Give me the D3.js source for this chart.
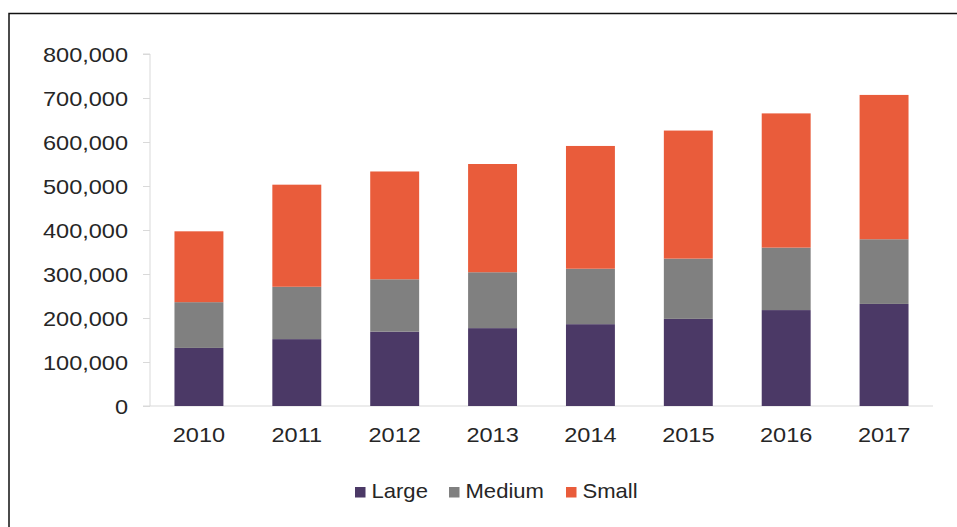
<!DOCTYPE html>
<html>
<head>
<meta charset="utf-8">
<script src="https://cdn.jsdelivr.net/npm/d3@7"></script>
<style>
  body { margin: 0; background: #fff; }
  svg { display: block; font-family: "Liberation Sans", Arial, sans-serif; }
  .axis text { fill: #262626; font-size: 21px; }
  .axis path, .axis line { stroke: #d9d9d9; }
  .legend text { fill: #262626; font-size: 21px; }
</style>
</head>
<body>
<div id="chart"></div>
<script>
const years = [`2010`, `2011`, `2012`, `2013`, `2014`, `2015`, `2016`, `2017`];
const large = [132000, 152000, 169000, 177000, 186000, 198000, 218000, 232000];
const medium = [104000, 119000, 119000, 127000, 126000, 137000, 142000, 147000];
const small = [161000, 232000, 245000, 246000, 279000, 291000, 305000, 328000];
const seriesNames = [`Large`, `Medium`, `Small`];
const seriesColors = [`#4b3966`, `#808080`, `#e95c3b`];
const yTicks = [0, 100000, 200000, 300000, 400000, 500000, 600000, 700000, 800000];

const width = 957;
const height = 527;
const margin = { top: 54, right: 24, bottom: 121, left: 150 };

const rows = years.map((y, i) => ({ year: y, Large: large[i], Medium: medium[i], Small: small[i] }));
const stacked = d3.stack().keys(seriesNames)(rows);

const svg = d3.select(`#chart`).append(`svg`)
  .attr(`width`, width)
  .attr(`height`, height);

// frame lines (top and left only)
svg.append(`path`)
  .attr(`d`, `M9,${height} V13.5 H${width}`)
  .attr(`fill`, `none`)
  .attr(`stroke`, `#111`)
  .attr(`stroke-width`, 1.5);

const x = d3.scaleBand()
  .domain(years)
  .range([margin.left, width - margin.right])
  .paddingInner(0.5)
  .paddingOuter(0.25);

const y = d3.scaleLinear()
  .domain([0, 800000])
  .range([height - margin.bottom, margin.top]);

const color = d3.scaleOrdinal().domain(seriesNames).range(seriesColors);

// the source's text is drawn a bit wider than the font gives
const stretch = (sel, k) => sel.each(function() {
  const w = this.getComputedTextLength();
  d3.select(this).attr(`textLength`, w * k).attr(`lengthAdjust`, `spacingAndGlyphs`);
});

const yAxis = svg.append(`g`)
  .attr(`class`, `axis`)
  .attr(`transform`, `translate(${margin.left},0)`)
  .call(d3.axisLeft(y).tickValues(yTicks).tickSize(7).tickPadding(15).tickFormat(d3.format(`,`)));
yAxis.select(`.domain`).attr(`d`, `M-7,${y(800000)}H0V${y(0)}`);
yAxis.selectAll(`text`).attr(`dy`, `0.36em`).call(stretch, 1.12);

const xAxis = svg.append(`g`)
  .attr(`class`, `axis`)
  .attr(`transform`, `translate(0,${y(0)})`)
  .call(d3.axisBottom(x).tickSize(0).tickPadding(21));
xAxis.select(`.domain`).attr(`d`, `M${margin.left - 7},0H${width - margin.right}`);
xAxis.selectAll(`text`).call(stretch, 1.12);

svg.append(`g`)
  .selectAll(`g`)
  .data(stacked)
  .join(`g`)
    .attr(`fill`, (d) => color(d.key))
  .selectAll(`rect`)
  .data((d) => d)
  .join(`rect`)
    .attr(`x`, (d) => x(d.data.year))
    .attr(`y`, (d) => y(d[1]))
    .attr(`width`, x.bandwidth())
    .attr(`height`, (d) => y(d[0]) - y(d[1]));

const legendX = [355, 449, 566];
const legend = svg.append(`g`)
  .attr(`class`, `legend`)
  .selectAll(`g`)
  .data(seriesNames)
  .join(`g`)
    .attr(`transform`, (d, i) => `translate(${legendX[i]},487)`);

legend.append(`rect`)
  .attr(`width`, 10.5)
  .attr(`height`, 10.5)
  .attr(`fill`, (d) => color(d));

legend.append(`text`)
  .attr(`x`, 16.5)
  .attr(`y`, 11)
  .text((d) => d)
  .call(stretch, 1.05);
</script>
</body>
</html>
